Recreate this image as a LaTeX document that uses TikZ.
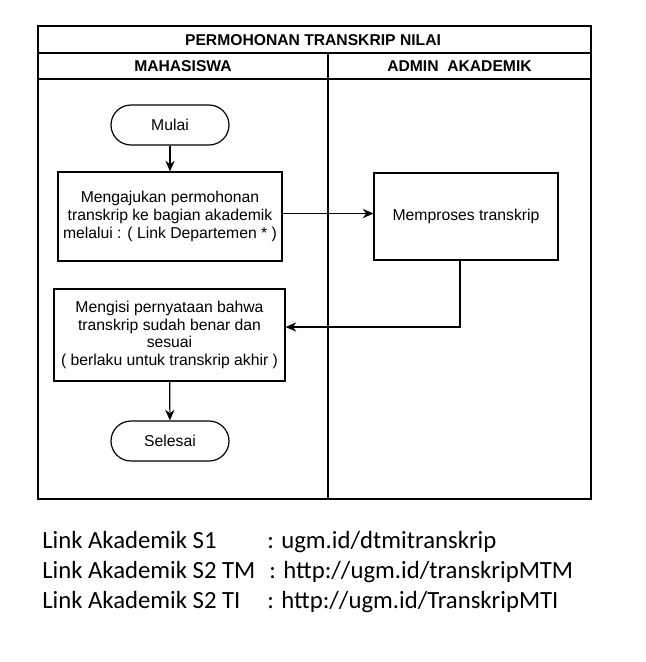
\documentclass[tikz,border=0pt]{standalone}
\usepackage{fontspec}
\setmainfont{Liberation Sans}
\newfontfamily\calfont{Carlito}
\usetikzlibrary{arrows.meta}
\begin{document}
\begin{tikzpicture}[x=0.75pt,y=-0.75pt,
  lane/.style={draw=black,line width=1pt},
  hdr/.style={font=\fontsize{11.75}{13}\selectfont\bfseries,inner sep=0pt},
  proc/.style={draw=black,line width=0.9pt,align=center,font=\fontsize{11.8}{13.3}\selectfont,inner sep=0pt},
  term/.style={proc,rounded corners=15pt,minimum width=88.5pt,minimum height=30pt},
  flow/.style={draw=black,line width=0.9pt,-{Stealth[length=8pt,width=7pt]}},
  legend/.style={font=\calfont\fontsize{18.55}{22}\selectfont,anchor=base west,inner sep=0pt}]
\useasboundingbox (0,0) rectangle (646,662);
% swimlane frame
\draw[lane] (38,26) rectangle (591,499);
\draw[lane] (38,53) -- (591,53);
\draw[lane] (38,79) -- (591,79);
\draw[lane] (328,53) -- (328,499);
\node[hdr] (title) at (313,40) {PERMOHONAN TRANSKRIP NILAI};
\node[hdr] (mhs) at (183,66.5) {MAHASISWA};
\node[hdr] (adm) at (459.5,66.5) {ADMIN\ \ AKADEMIK};
% flow nodes
\node[term] (mulai) at (170,125) {Mulai};
\node[proc,minimum width=168pt,minimum height=66.75pt] (aju) at (170,216.5)
  {Mengajukan permohonan\\transkrip ke bagian akademik\\melalui : ( Link Departemen * )};
\node[proc,minimum width=138pt,minimum height=65.25pt] (proses) at (466,216.5) {Memproses transkrip};
\node[proc,minimum width=173.25pt,minimum height=69pt] (isi) at (169.5,335)
  {Mengisi pernyataan bahwa\\transkrip sudah benar dan\\sesuai\\( berlaku untuk transkrip akhir )};
\node[term] (selesai) at (170,441) {Selesai};
% connectors
\draw[flow] (mulai) -- (aju);
\draw[flow] ([yshift=2.25pt]aju.east) -- ([yshift=2.25pt]proses.west);
\draw[flow] ([xshift=-4.5pt]proses.south) |- ([yshift=6pt]isi.east);
\draw[flow] (isi) -- (selesai);
% legend
\node[legend] (l1) at (42,548) {Link Akademik S1};
\node[legend] (l2) at (42,578) {Link Akademik S2 TM};
\node[legend] (l3) at (42,608) {Link Akademik S2 TI};
\node[legend] (u1) at (267,548) {: ugm.id/dtmitranskrip};
\node[legend] (u2) at (269,578) {: http://ugm.id/transkripMTM};
\node[legend] (u3) at (267,608) {: http://ugm.id/TranskripMTI};
\end{tikzpicture}
\end{document}
